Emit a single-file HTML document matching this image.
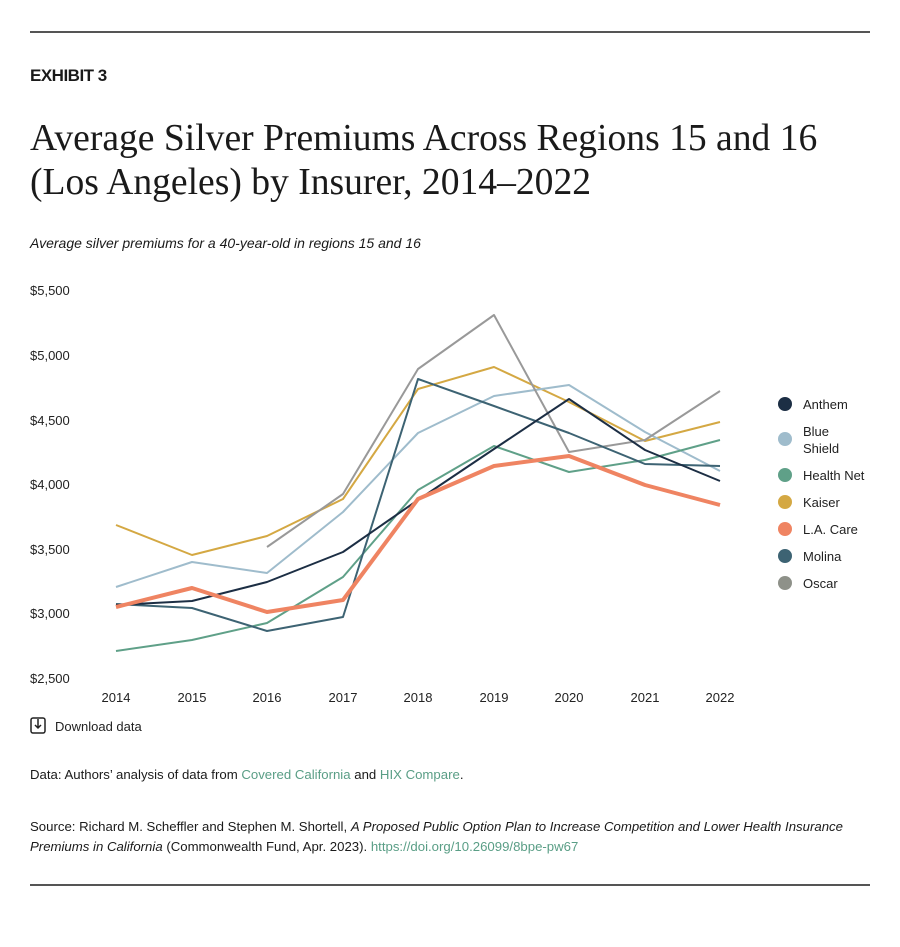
<!DOCTYPE html>
<html><head><meta charset="utf-8"><style>
body{margin:0;width:900px;height:947px;background:#fff;font-family:"Liberation Sans",sans-serif;color:#1a1a1a;position:relative;overflow:hidden}
.abs{position:absolute;white-space:nowrap}
.rule{position:absolute;left:30px;width:840px;height:2px;background:#555}
a{color:#5a9e86;text-decoration:none}
</style></head><body>
<div class="rule" style="top:31px"></div>
<div class="abs" style="left:30px;top:66px;font-size:17px;font-weight:bold;letter-spacing:-0.5px">EXHIBIT 3</div>
<div class="abs" style="left:30px;top:117px;font-family:'Liberation Serif',serif;font-size:37.6px;line-height:44px;color:#1a1a1a">Average Silver Premiums Across Regions 15 and 16<br>(Los Angeles) by Insurer, 2014–2022</div>
<div class="abs" style="left:30px;top:235px;font-size:14px;font-style:italic">Average silver premiums for a 40-year-old in regions 15 and 16</div>
<svg class="abs" style="left:0;top:0" width="900" height="760">
<g font-family="Liberation Sans, sans-serif" font-size="13" fill="#222">
<text x="30" y="295">$5,500</text><text x="30" y="360">$5,000</text><text x="30" y="425">$4,500</text><text x="30" y="489">$4,000</text><text x="30" y="554">$3,500</text><text x="30" y="618">$3,000</text><text x="30" y="683">$2,500</text>
<g text-anchor="middle"><text x="116" y="702">2014</text><text x="192" y="702">2015</text><text x="267" y="702">2016</text><text x="343" y="702">2017</text><text x="418" y="702">2018</text><text x="494" y="702">2019</text><text x="569" y="702">2020</text><text x="645" y="702">2021</text><text x="720" y="702">2022</text></g>
</g>
<g fill="none" stroke-width="2" stroke-linejoin="round">
<polyline stroke="#d4a843" points="116,525 192,555 267,536 343,499 418,389 494,367 569,402 645,441 720,422"/>
<polyline stroke="#9fbccc" points="116,587 192,562 267,573 343,512 418,433 494,396 569,385 645,432 720,471"/>
<polyline stroke="#999999" points="267,547 343,494 418,369 494,315 569,452 645,440 720,391"/>
<polyline stroke="#5fa088" points="116,651 192,640 267,623 343,577 418,490 494,446 569,472 645,460 720,440"/>
<polyline stroke="#3d6373" points="116,604 192,608 267,631 343,617 418,379 494,406 569,433 645,464 720,466"/>
<polyline stroke="#1c2e44" points="116,605 192,601 267,582 343,552 418,500 494,449 569,399 645,450 720,481"/>
<polyline stroke="#ef8462" stroke-width="4" points="116,607 192,588 267,612 343,600 418,499 494,466 569,456 645,485 720,505"/>
</g>
<g font-family="Liberation Sans, sans-serif" font-size="13" fill="#222">
<circle cx="785" cy="404" r="7" fill="#1c2e44"/><text x="803" y="409">Anthem</text>
<circle cx="785" cy="439" r="7" fill="#9fbccc"/><text x="803" y="436">Blue</text><text x="803" y="453">Shield</text>
<circle cx="785" cy="475" r="7" fill="#5fa088"/><text x="803" y="480">Health Net</text>
<circle cx="785" cy="502" r="7" fill="#d4a843"/><text x="803" y="507">Kaiser</text>
<circle cx="785" cy="529" r="7" fill="#ef8462"/><text x="803" y="534">L.A. Care</text>
<circle cx="785" cy="556" r="7" fill="#3d6373"/><text x="803" y="561">Molina</text>
<circle cx="785" cy="583" r="7" fill="#8e9189"/><text x="803" y="588">Oscar</text>
</g>
<g stroke="#222" stroke-width="1.5" fill="none"><rect x="31" y="718" width="14" height="15" rx="2"/><path d="M38 719v9M35 725l3 3 3-3"/></g>
<text x="55" y="731" font-family="Liberation Sans, sans-serif" font-size="13" fill="#222">Download data</text>
</svg>
<div class="abs" style="left:30px;top:767px;font-size:13.2px">Data: Authors’ analysis of data from <a>Covered California</a> and <a>HIX Compare</a>.</div>
<div class="abs" style="left:30px;top:817px;font-size:13.2px;line-height:20px">Source: Richard M. Scheffler and Stephen M. Shortell, <i>A Proposed Public Option Plan to Increase Competition and Lower Health Insurance</i><br><i>Premiums in California</i> (Commonwealth Fund, Apr. 2023). <a>https://doi.org/10.26099/8bpe-pw67</a></div>
<div class="rule" style="top:884px"></div>
</body></html>
